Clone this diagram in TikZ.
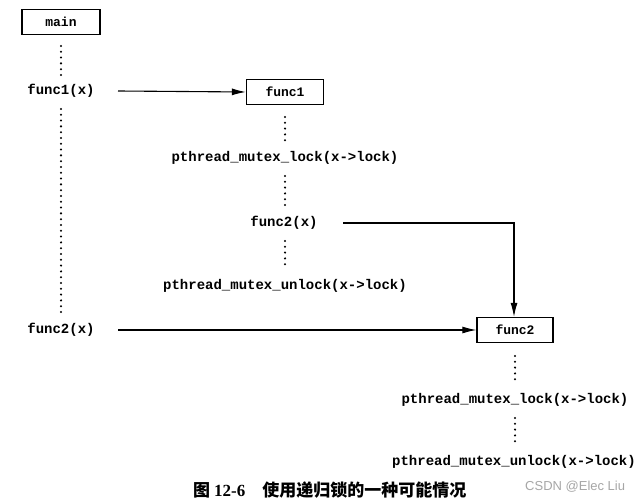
\documentclass[tikz,border=0pt]{standalone}
\usepackage{fontspec}
\setmonofont{Liberation Mono}
\newfontfamily\cjk{Noto Sans CJK SC}
\newfontfamily\capser{Liberation Serif}
\newfontfamily\wmfont{Liberation Sans}
\usetikzlibrary{arrows.meta}
\begin{document}
\begin{tikzpicture}[x=1pt,y=-1pt,
  code/.style={font=\ttfamily\bfseries\fontsize{14}{16}\selectfont, inner sep=0pt},
  fbox/.style={draw, line width=1.3pt, minimum width=77pt, minimum height=25pt, inner sep=0pt, font=\ttfamily\bfseries\fontsize{13}{15}\selectfont},
  dots/.style={line width=2.3pt, line cap=round, dash pattern=on 0pt off 5.8pt},
  arr/.style={line width=1.1pt, -{Latex[length=14pt,width=7pt]}},
]
\useasboundingbox (0,0) rectangle (639,502);
% left column
\node[fbox, minimum width=78pt] (main) at (61,22) {main};
\node[code] (f1x) at (61,91) {func1(x)};
\node[code] (f2xl) at (61,330) {func2(x)};
% func1 column
\node[fbox] (func1) at (285,92) {func1};
\node[code] (lk1) at (285,158) {pthread\_mutex\_lock(x->lock)};
\node[code] (f2xm) at (284,223) {func2(x)};
\node[code] (ul1) at (285,286) {pthread\_mutex\_unlock(x->lock)};
% func2 column
\node[fbox, minimum width=76pt] (func2) at (515,330) {func2};
\node[code] (lk2) at (515,400) {pthread\_mutex\_lock(x->lock)};
\node[code] (ul2) at (514,462) {pthread\_mutex\_unlock(x->lock)};
% dots
\draw[dots] (61,46) -- (61,76);
\draw[dots] (61,109) -- (61,312);
\draw[dots] (285,117) -- (285,141);
\draw[dots] (285,176) -- (285,206);
\draw[dots] (285,241) -- (285,269);
\draw[dots] (515,356) -- (515,383);
\draw[dots] (515,418) -- (515,446);
% arrows
\coordinate (a1) at (118,91);
\coordinate (a2) at (118,330);
\coordinate (b1) at (343,223);
\coordinate (corner) at (514,223);
\draw[arr] (a1) -- (func1.west);
\draw[arr] (a2) -- (func2.west);
\draw[arr] (b1) -- (corner) -- (corner |- func2.north);
% caption
\node[inner sep=0pt, anchor=west] (cap) at (193,490) {{\cjk\bfseries\fontsize{17}{19}\selectfont 图}\hspace{4pt}{\capser\bfseries\fontsize{17}{19}\selectfont 12-6}\hspace{17pt}{\cjk\bfseries\fontsize{17}{19}\selectfont 使用递归锁的一种可能情况}};
\node[inner sep=0pt, anchor=west, text=black!35] (wm) at (525,487) {\wmfont\fontsize{13}{15}\selectfont CSDN @Elec Liu};
\end{tikzpicture}
\end{document}
